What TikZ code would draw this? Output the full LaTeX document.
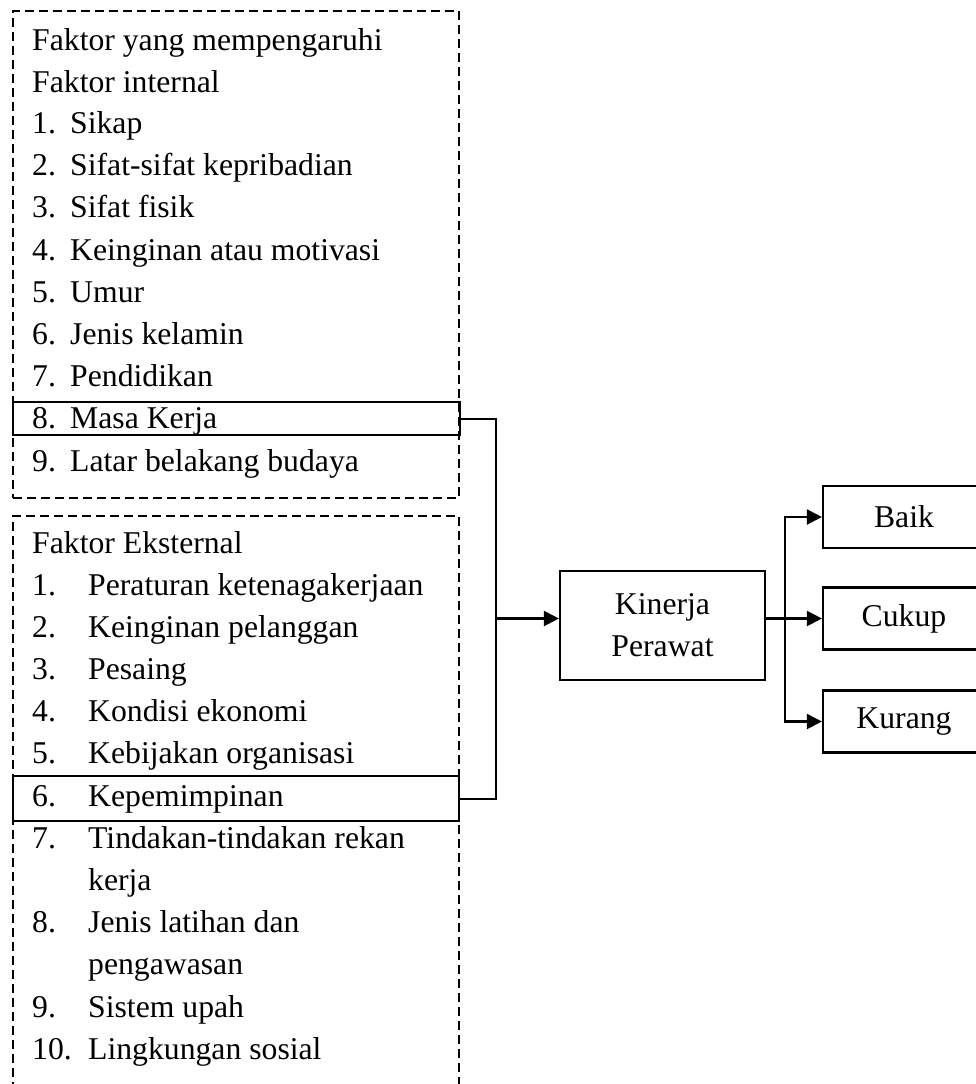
\documentclass[tikz,border=0pt]{standalone}
\usepackage{fontspec}
\setmainfont{Liberation Serif}
\usetikzlibrary{positioning}
\usetikzlibrary{arrows.meta}

\tikzset{
  itemtext/.style={anchor=base west, inner sep=0pt},
  dashbox/.style={draw, dash pattern=on 9pt off 5pt, line width=1.6pt, inner sep=0pt, anchor=north west},
  markbox/.style={draw, line width=2.2pt, inner sep=0pt, anchor=north west},
  outbox/.style={draw, line width=2.2pt, minimum width=162pt, minimum height=62pt, inner sep=0pt},
  conn/.style={line width=2.2pt},
  arr/.style={conn, -{Triangle[length=15pt,width=15pt]}}
}

\begin{document}
\begin{tikzpicture}[x=1pt, y=-1pt, every node/.style={font=\fontsize{31.7pt}{42.2pt}\selectfont}]
        \useasboundingbox (0,0) rectangle (976,1084);

        % faktor internal
        \node[dashbox, minimum width=446pt, minimum height=487pt] (intbox) at (12,10) {};
        \node[markbox, minimum width=447pt, minimum height=33pt] (masa) at (12,401) {};
        \node[itemtext] (inthead) at (32,50) {Faktor yang mempengaruhi};
        \node[itemtext] (intsub) at (32,92) {Faktor internal};
        \foreach \n/\t [count=\i] in {1/Sikap, 2/Sifat-sifat kepribadian, 3/Sifat fisik,
            4/Keinginan atau motivasi, 5/Umur, 6/Jenis kelamin, 7/Pendidikan,
            8/Masa Kerja, 9/Latar belakang budaya}{
          \node[itemtext] (intnum\n) at (32,{133.5+42.2*(\i-1)}) {\n.};
          \node[itemtext] (int\n) at (70,{133.5+42.2*(\i-1)}) {\t};
        }

        % faktor eksternal
        \node[dashbox, minimum width=446pt, minimum height=600pt] (extbox) at (12,515) {};
        \node[markbox, minimum width=446pt, minimum height=45pt] (pimpin) at (12,775) {};
        \node[itemtext] (exthead) at (32,553) {Faktor Eksternal};
        \foreach \r/\n/\t in {0/1./Peraturan ketenagakerjaan, 1/2./Keinginan pelanggan,
            2/3./Pesaing, 3/4./Kondisi ekonomi, 4/5./Kebijakan organisasi,
            5/6./Kepemimpinan, 6/7./Tindakan-tindakan rekan, 7//kerja,
            8/8./Jenis latihan dan, 9//pengawasan, 10/9./Sistem upah,
            11/10./Lingkungan sosial}{
          \node[itemtext] (extnum\r) at (32,{595+42.2*\r}) {\n};
          \node[itemtext] (ext\r) at (88,{595+42.2*\r}) {\t};
        }

        \node[draw, line width=2.2pt, minimum width=205pt, minimum height=109pt, align=center]
        (kinerja) at (662.5,625.5) {Kinerja\\Perawat};

        \node[outbox] (baik) at (904,517) {Baik};
        \node[outbox] (cukup) at (904,618.5) {Cukup};
        \node[outbox] (kurang) at (904,721.5) {Kurang};

        \coordinate (join) at (496,618.5);
        \coordinate (split) at (785,618.5);
        \draw[conn] (masa.east) -| (join);
        \draw[conn] (pimpin.east) -| (join);
        \draw[arr] (join) -- (join -| kinerja.west);
        \draw[arr] (kinerja.east |- cukup.west) -- (cukup.west);
        \draw[arr] (split) |- (baik.west);
        \draw[arr] (split) |- (kurang.west);

\end{tikzpicture}
\end{document}
